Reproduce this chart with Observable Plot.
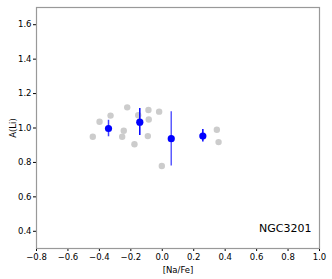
<!DOCTYPE html>
<html>
<head>
<meta charset="utf-8">
<script src="https://cdn.jsdelivr.net/npm/d3@7"></script>
<script src="https://cdn.jsdelivr.net/npm/@observablehq/plot@0.6"></script>
<style>
  html, body { margin: 0; padding: 0; background: #fff; }
  svg { display: block; }
</style>
</head>
<body>
<div id="chart"></div>
<script>
const grayNa = [-0.442, -0.399, -0.329, -0.223, -0.245, -0.255, -0.177, -0.153, -0.088, -0.086, -0.092, -0.020, -0.003, 0.347, 0.358];
const grayLi = [0.949, 1.036, 1.072, 1.120, 0.984, 0.949, 0.906, 1.074, 1.105, 1.049, 0.953, 1.095, 0.779, 0.990, 0.918];

const meanNa = [-0.342, -0.143, 0.057, 0.258];
const meanLi = [0.997, 1.034, 0.938, 0.953];
const errLo = [0.949, 0.957, 0.779, 0.918];
const errHi = [1.045, 1.113, 1.095, 0.991];
const errOpacity = [0.75, 1, 0.65, 1];

const xTicks = [-0.8, -0.6, -0.4, -0.2, 0.0, 0.2, 0.4, 0.6, 0.8, 1.0];
const yTicks = [0.4, 0.6, 0.8, 1.0, 1.2, 1.4, 1.6];
const clusterName = "NGC3201";

const gray = grayNa.map((x, i) => ({x, y: grayLi[i]}));
const means = meanNa.map((x, i) => ({x, y: meanLi[i], lo: errLo[i], hi: errHi[i], op: errOpacity[i]}));
const fmt = d3.format(".1f");

const chart = Plot.plot({
  width: 332,
  height: 279,
  marginLeft: 36,
  marginRight: 13,
  marginTop: 7,
  marginBottom: 31,
  style: {fontFamily: "DejaVu Sans, sans-serif", fontSize: "8.5px", color: "#000", background: "#fff"},
  x: {domain: [-0.8, 1.0], ticks: xTicks, tickFormat: fmt, tickSize: 3, tickPadding: 2, label: "[Na/Fe]", labelAnchor: "center", labelArrow: "none", labelOffset: 24},
  y: {domain: [0.3, 1.7], ticks: yTicks, tickFormat: fmt, tickSize: 3, tickPadding: 2, label: "A(Li)", labelAnchor: "center", labelArrow: "none", labelOffset: 27},
  marks: [
    Plot.frame({stroke: "#999", strokeWidth: 1.2}),
    Plot.dot(gray, {x: "x", y: "y", r: 3.2, fill: "#cccccc", stroke: null}),
    Plot.ruleX(means, {x: "x", y1: "lo", y2: "hi", stroke: "#0000ff", strokeWidth: 1.5, strokeOpacity: "op"}),
    Plot.dot(means, {x: "x", y: "y", r: 3.6, fill: "#0000ff", stroke: null}),
    Plot.text([clusterName], {frameAnchor: "bottom-right", dx: -8, dy: -17, fontSize: 11, fill: "#000", textAnchor: "end"})
  ]
});
document.getElementById("chart").appendChild(chart);
</script>
</body>
</html>
